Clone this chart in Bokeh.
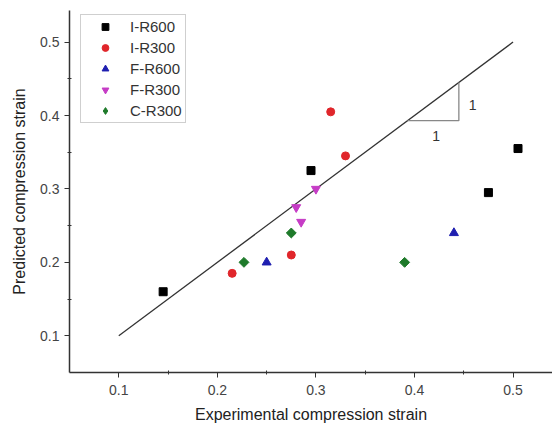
import numpy as np
from bokeh.plotting import figure
from bokeh.models import FixedTicker, Range1d, Legend, LegendItem
from bokeh.core.properties import value
from bokeh.embed import file_html
from bokeh.resources import INLINE

# Data
ir600_x = [0.145, 0.295, 0.475, 0.505]
ir600_y = [0.160, 0.325, 0.295, 0.355]
ir300_x = [0.215, 0.275, 0.315, 0.330]
ir300_y = [0.185, 0.210, 0.405, 0.345]
fr600_x = [0.250, 0.440]
fr600_y = [0.200, 0.240]
fr300_x = [0.280, 0.285, 0.300]
fr300_y = [0.275, 0.255, 0.300]
cr300_x = [0.227, 0.275, 0.390]
cr300_y = [0.200, 0.240, 0.200]
series_names = ["I-R600", "I-R300", "F-R600", "F-R300", "C-R300"]
ref_line_x = [0.1, 0.5]
ref_line_y = [0.1, 0.5]
slope_x = [0.393, 0.445, 0.445]
slope_y = [0.393, 0.393, 0.445]
major_ticks = [0.1, 0.2, 0.3, 0.4, 0.5]
minor_ticks = [0.15, 0.25, 0.35, 0.45]

FONT = "Liberation Sans"
GREEN = "#1e7a2a"

p = figure(width=552, height=429, output_backend="svg", toolbar_location=None,
           x_range=Range1d(0.05, 0.54), y_range=Range1d(0.05, 0.543),
           min_border_left=69, min_border_right=0, min_border_top=10, min_border_bottom=57)
p.outline_line_color = None
p.xgrid.visible = False
p.ygrid.visible = False
p.background_fill_color = "white"
p.border_fill_color = "white"

for ax in (p.xaxis[0], p.yaxis[0]):
    ax.ticker = FixedTicker(ticks=major_ticks, minor_ticks=minor_ticks)
    ax.axis_line_color = "#333333"
    ax.axis_line_width = 1.5
    ax.major_tick_line_color = "#333333"
    ax.minor_tick_line_color = "#333333"
    ax.major_tick_out = 5
    ax.major_tick_in = 0
    ax.minor_tick_out = 2
    ax.minor_tick_in = 2
    ax.major_label_text_font = FONT
    ax.major_label_text_font_size = "14px"
    ax.major_label_text_color = "#444444"
    ax.axis_label_text_font = FONT
    ax.axis_label_text_font_size = "16px"
    ax.axis_label_text_font_style = "normal"
    ax.axis_label_text_color = "#222222"

p.xaxis.axis_label = "Experimental compression strain"
p.yaxis.axis_label = "Predicted compression strain"
p.xaxis.major_label_standoff = 7
p.xaxis.axis_label_standoff = 8
p.yaxis.major_label_standoff = 5
p.yaxis.axis_label_standoff = 9

# reference line and slope triangle
p.line(ref_line_x, ref_line_y, line_color="#333333", line_width=1.3)
p.line(slope_x, slope_y, line_color="#888888", line_width=1.3)
p.text(x=[0.422], y=[0.372], text=["1"], text_font=value(FONT), text_font_size="14px",
       text_color="#333333", text_align="center", text_baseline="middle")
p.text(x=[0.459], y=[0.414], text=["1"], text_font=value(FONT), text_font_size="14px",
       text_color="#333333", text_align="center", text_baseline="middle")

r1 = p.scatter(ir600_x, ir600_y, marker="square", size=8, fill_color="black", line_color="black")
r2 = p.scatter(ir300_x, ir300_y, marker="circle", size=8, fill_color="#e0262b", line_color="#e0262b")
r3 = p.scatter(fr600_x, fr600_y, marker="triangle", size=9, fill_color="#1f1fb0", line_color="#1f1fb0")
r4 = p.scatter(fr300_x, fr300_y, marker="inverted_triangle", size=9, fill_color="#c63cc6", line_color="#c63cc6")
p.scatter(cr300_x, cr300_y, marker="square", size=7, angle=np.pi / 4,
          fill_color=GREEN, line_color=GREEN)
# legend-only proxy for the diamond series (a single off-data point)
r5 = p.scatter(x=[float("nan")], y=[float("nan")], marker="diamond", size=11,
               fill_color=GREEN, line_color=GREEN)

legend = Legend(items=[LegendItem(label=n, renderers=[r]) for n, r in
                       zip(series_names, [r1, r2, r3, r4, r5])],
                location=(11, 249))
legend.label_text_font = FONT
legend.label_text_font_size = "15px"
legend.label_text_color = "#333333"
legend.border_line_color = "#a0a0a0"
legend.border_line_width = 1
legend.background_fill_color = "white"
legend.background_fill_alpha = 1.0
legend.glyph_height = 17
legend.label_height = 17
legend.spacing = 4
legend.padding = 3
legend.margin = 0
legend.glyph_width = 42
legend.label_standoff = 4
p.add_layout(legend, "center")

open("out.html", "w").write(file_html(p, INLINE))
